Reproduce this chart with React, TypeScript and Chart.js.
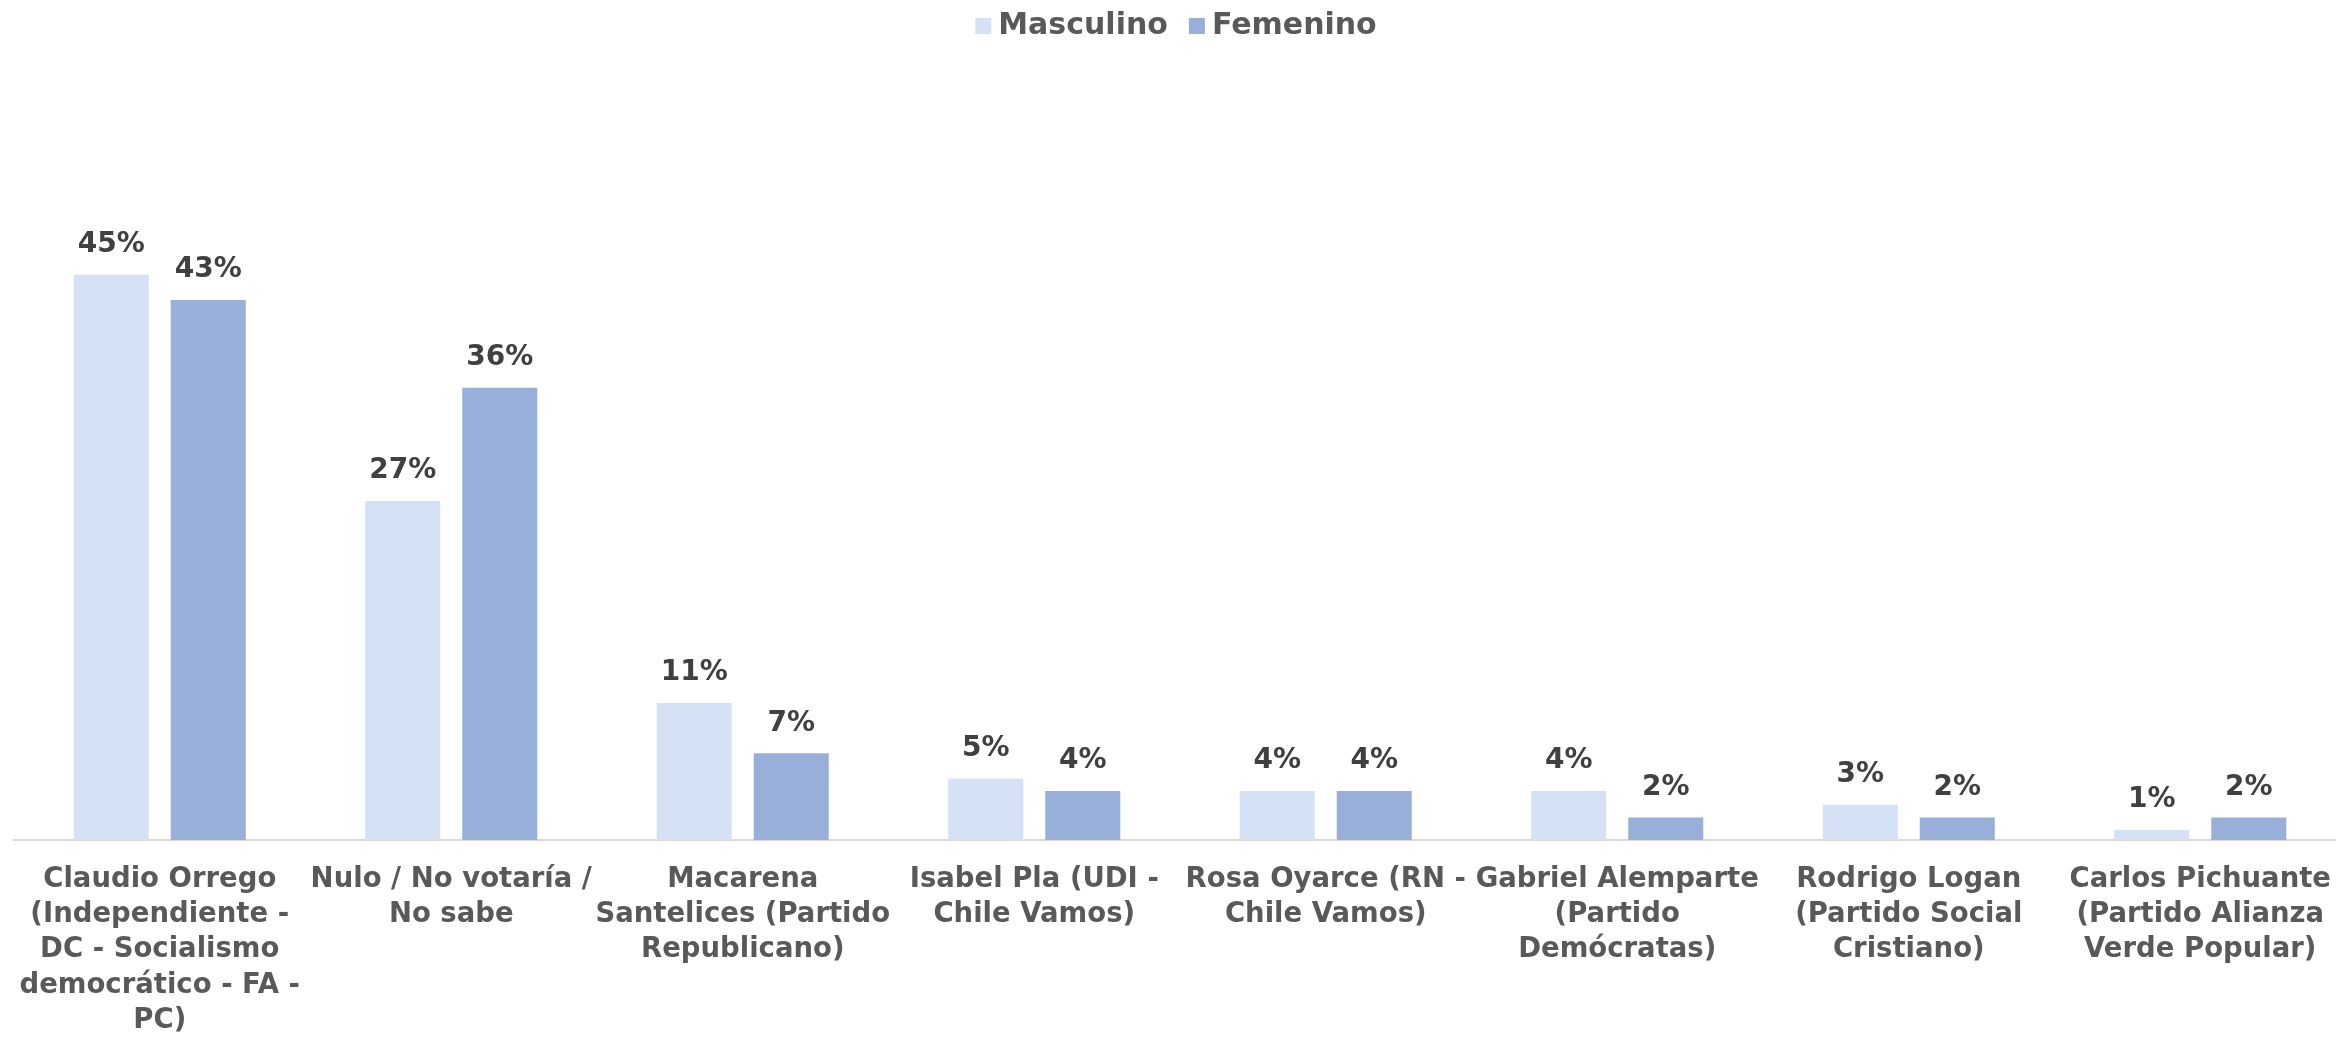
import React, { useEffect, useRef } from "react";
import { Chart, registerables } from "chart.js";

Chart.register(...registerables);

const categories: string[][] = [
  ["Claudio Orrego", "(Independiente -", "DC - Socialismo", "democrático - FA -", "PC)"],
  ["Nulo / No votaría /", "No sabe"],
  ["Macarena", "Santelices (Partido", "Republicano)"],
  ["Isabel Pla (UDI -", "Chile Vamos)"],
  ["Rosa Oyarce (RN -", "Chile Vamos)"],
  ["Gabriel Alemparte", "(Partido", "Demócratas)"],
  ["Rodrigo Logan", "(Partido Social", "Cristiano)"],
  ["Carlos Pichuante", "(Partido Alianza", "Verde Popular)"],
];

const seriesNames = ["Masculino", "Femenino"];
const masculino = [45, 27, 10.9, 4.9, 3.9, 3.9, 2.8, 0.8];
const femenino = [43, 36, 6.9, 3.9, 3.9, 1.8, 1.8, 1.8];
const seriesColors = ["#D5E1F4", "#98AFDA"];

const FONT = "'DejaVu Sans', sans-serif";

const dataLabelPlugin = {
  id: "dataLabels",
  afterDatasetsDraw(chart: any) {
    const ctx = chart.ctx;
    ctx.save();
    ctx.font = `bold 28px ${FONT}`;
    ctx.fillStyle = "#404040";
    ctx.textAlign = "center";
    ctx.textBaseline = "middle";
    chart.data.datasets.forEach((ds: any, di: number) => {
      const meta = chart.getDatasetMeta(di);
      meta.data.forEach((el: any, i: number) => {
        const v = ds.data[i];
        ctx.fillText(`${Math.round(v)}%`, el.x, el.y - 30);
      });
    });
    ctx.restore();
  },
};

const legendPlugin = {
  id: "customLegend",
  afterDraw(chart: any) {
    const ctx = chart.ctx;
    ctx.save();
    ctx.font = `bold 30px ${FONT}`;
    const box = 16;
    const gap = 7;
    const spacing = 21;
    const widths = seriesNames.map((n) => box + gap + ctx.measureText(n).width);
    const total = widths.reduce((a, b) => a + b, 0) + spacing * (seriesNames.length - 1);
    const cx = 1176;
    let x = cx - total / 2;
    const y = 26;
    ctx.textBaseline = "middle";
    ctx.textAlign = "left";
    seriesNames.forEach((n, i) => {
      ctx.fillStyle = seriesColors[i];
      ctx.fillRect(x, y - box / 2, box, box);
      ctx.fillStyle = "#595959";
      ctx.fillText(n, x + box + gap, y);
      x += widths[i] + spacing;
    });
    ctx.restore();
  },
};

export default function App() {
  const canvasRef = useRef<HTMLCanvasElement>(null);

  useEffect(() => {
    if (!canvasRef.current) return;
    const chart = new Chart(canvasRef.current, {
      type: "bar",
      data: {
        labels: categories,
        datasets: [
          {
            label: seriesNames[0],
            data: masculino,
            backgroundColor: seriesColors[0],
            categoryPercentage: 0.6658,
            barPercentage: 0.773,
          },
          {
            label: seriesNames[1],
            data: femenino,
            backgroundColor: seriesColors[1],
            categoryPercentage: 0.6658,
            barPercentage: 0.773,
          },
        ],
      },
      options: {
        responsive: false,
        animation: false,
        layout: { padding: { left: 14, right: 0, top: 212, bottom: 0 } },
        plugins: {
          legend: { display: false },
          tooltip: { enabled: false },
          title: { display: false },
        },
        scales: {
          x: {
            grid: { display: false, drawTicks: true, tickLength: 22 },
            border: { display: true, color: "#D9D9D9", width: 2 },
            afterFit: (scale: any) => {
              scale.height = 197;
              scale.paddingLeft = 0;
              scale.paddingRight = 0;
            },
            ticks: {
              autoSkip: false,
              maxRotation: 0,
              minRotation: 0,
              padding: 0,
              color: "#595959",
              font: { family: FONT, size: 27.5, weight: "bold", lineHeight: 1.285 },
            },
          },
          y: {
            display: false,
            min: 0,
            max: 50,
            grid: { display: false },
          },
        },
      },
      plugins: [dataLabelPlugin, legendPlugin],
    });
    return () => chart.destroy();
  }, []);

  return (
    <div
      style={{
        position: "fixed",
        left: 0,
        top: 0,
        width: 2336,
        height: 1037,
        overflow: "hidden",
        background: "#fff",
      }}
    >
      <canvas ref={canvasRef} width={2346} height={1037} style={{ display: "block" }} />
    </div>
  );
}
